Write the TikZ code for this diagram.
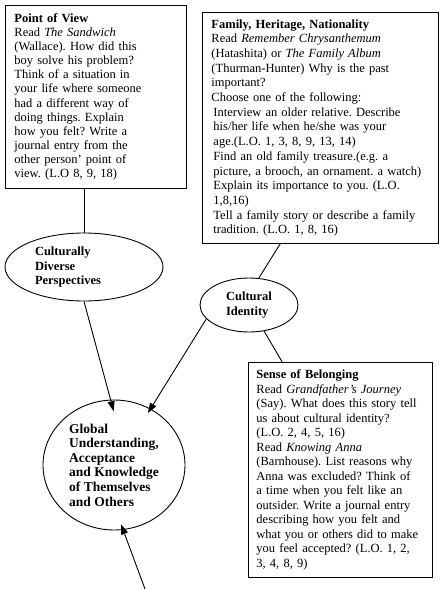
\documentclass[tikz,border=0pt]{standalone}
\usepackage{fontspec}
\setmainfont{Liberation Serif}
\usetikzlibrary{arrows.meta,calc,shapes.geometric}
\frenchspacing
\begin{document}
\begin{tikzpicture}[x=1pt,y=-1pt,
  every node/.style={font=\fontsize{12.5}{14}\selectfont},
  textbox/.style={draw, line width=0.9pt, rectangle, anchor=north west,
    align=left, inner xsep=9pt, inner ysep=0pt},
  topic/.style={draw, line width=0.9pt, ellipse, inner sep=0pt, align=left,
    font=\fontsize{12.5}{14.4}\selectfont\bfseries},
  link/.style={line width=0.9pt},
  arr/.style={link, -{Triangle[length=10pt,width=7pt]}}]
\useasboundingbox (0,0) rectangle (440,589);

% activity boxes
\node[textbox, text width=163pt, minimum height=183pt,
      font=\fontsize{12.5}{14.1}\selectfont] (pov) at (5,5)
  {\textbf{Point of View}\\
   Read \textit{The Sandwich}\\
   (Wallace). How did this\\
   boy solve his problem?\\
   Think of a situation in\\
   your life where someone\\
   had a different way of\\
   doing things. Explain\\
   how you felt? Write a\\
   journal entry from the\\
   other person' point of\\
   view. (L.O 8, 9, 18)};

\node[textbox, text width=218pt, minimum height=231pt,
      font=\fontsize{12.5}{14.7}\selectfont] (fam) at (202,12)
  {\textbf{Family, Heritage, Nationality}\\
   Read \textit{Remember Chrysanthemum}\\
   (Hatashita) or \textit{The Family Album}\\
   (Thurman-Hunter) Why is the past\\
   important?\\
   Choose one of the following:\\
   \hspace*{2pt}Interview an older relative. Describe\\
   \hspace*{2pt}his/her life when he/she was your\\
   \hspace*{2pt}age.(L.O. 1, 3, 8, 9, 13, 14)\\
   \hspace*{2pt}Find an old family treasure.(e.g. a\\
   \hspace*{2pt}picture, a brooch, an ornament. a watch)\\
   \hspace*{2pt}Explain its importance to you. (L.O.\\
   \hspace*{2pt}1,8,16)\\
   \hspace*{2pt}Tell a family story or describe a family\\
   \hspace*{2pt}tradition. (L.O. 1, 8, 16)};

\node[textbox, inner xsep=8pt, text width=168pt, minimum height=215pt,
      font=\fontsize{12.5}{14.5}\selectfont] (sob) at (248,362)
  {\textbf{Sense of Belonging}\\
   Read \textit{Grandfather's Journey}\\
   (Say). What does this story tell\\
   us about cultural identity?\\
   (L.O. 2, 4, 5, 16)\\
   Read \textit{Knowing Anna}\\
   (Barnhouse). List reasons why\\
   Anna was excluded? Think of\\
   a time when you felt like an\\
   outsider. Write a journal entry\\
   describing how you felt and\\
   what you or others did to make\\
   you feel accepted? (L.O. 1, 2,\\
   3, 4, 8, 9)};

% themes
\node[topic, minimum width=158pt, minimum height=68pt, text width=98pt] (cdp) at (84,267)
  {Culturally\\Diverse\\Perspectives};
\node[topic, minimum width=98pt, minimum height=54pt] (ci) at (249,305)
  {Cultural\\Identity};
\node[topic, minimum width=142pt, minimum height=130pt,
      font=\fontsize{13.5}{14.6}\selectfont\bfseries] (glob) at (114,465)
  {Global\\Understanding,\\Acceptance\\and Knowledge\\of Themselves\\and Others};

% connectors
\coordinate (below) at (145,589);
\draw[link] (cdp.north |- pov.south) -- (cdp.north);
\draw[link] ($(fam.south west)!0.33!(fam.south east)$) -- (ci.70);
\draw[link] (ci.-60) -- ($(sob.north west)!0.185!(sob.north east)$);
\draw[arr, shorten >=-12pt] (cdp.south) -- (glob.93);
\draw[arr, shorten >=-5pt] (ci.198) -- (glob.57);
\draw[arr, shorten >=-6pt] (below) -- (glob.-82);
\end{tikzpicture}
\end{document}
